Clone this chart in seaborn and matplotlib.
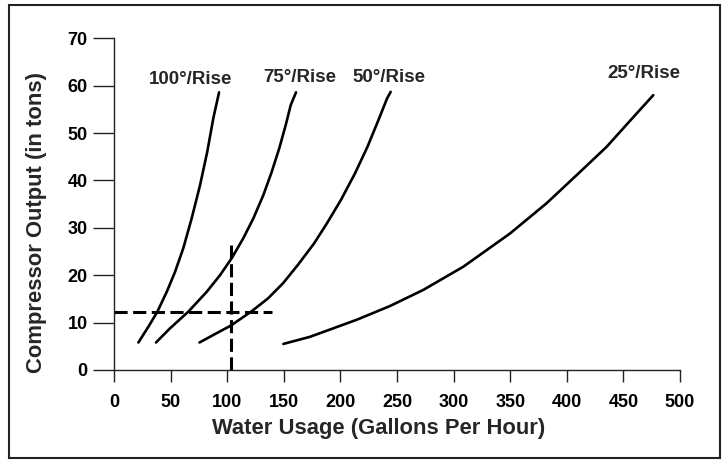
import matplotlib
matplotlib.use('Agg')
import matplotlib.pyplot as plt
import seaborn as sns
from matplotlib.patches import Rectangle


# curves, x = water usage (gal/h), y = compressor output (tons)
rise_100_x = [21.5, 30.3, 38.3, 46.6, 53.9, 61.2, 68.6, 76.0, 82.4, 87.7, 92.8]
rise_100_y = [5.8, 9.1, 12.3, 16.5, 20.7, 25.7, 32.0, 39.0, 46.1, 53.1, 58.6]

rise_75_x = [37.1, 49.5, 65.6, 81.9, 93.6, 104.0, 114.2, 123.1, 131.9, 139.3, 146.0, 151.7, 156.1, 160.8]
rise_75_y = [5.8, 8.8, 12.3, 16.5, 20.0, 23.6, 27.8, 32.0, 36.9, 41.8, 46.8, 51.7, 55.9, 58.6]

rise_50_x = [75.5, 90.1, 103.4, 121.6, 136.0, 149.3, 162.5, 176.7, 188.2, 200.5, 212.9, 223.9, 233.7, 241.2, 244.4]
rise_50_y = [5.8, 7.7, 9.4, 12.4, 15.1, 18.3, 22.2, 26.7, 31.0, 35.9, 41.5, 47.1, 52.8, 57.3, 58.7]

rise_25_x = [149.6, 173.1, 214.4, 243.8, 273.2, 308.6, 349.8, 382.2, 411.7, 435.2, 455.5, 476.4]
rise_25_y = [5.5, 7.0, 10.6, 13.5, 16.9, 21.8, 28.8, 35.2, 41.8, 47.1, 52.5, 58.0]

curve_labels = ['100°/Rise', '75°/Rise', '50°/Rise', '25°/Rise']
label_x = [68.0, 164.3, 242.5, 468.2]
label_y = [61.4, 61.7, 61.7, 62.5]

# the dashed "example" lookup lines
guide_h_x = [0, 139.3]
guide_h_y = [12.3, 12.3]
guide_v_x = [103.4, 103.4]
guide_v_y = [0, 26.5]

x_ticks = [0, 50, 100, 150, 200, 250, 300, 350, 400, 450, 500]
y_ticks = [0, 10, 20, 30, 40, 50, 60, 70]

sns.set_style('ticks')
plt.rcParams['font.family'] = ['Liberation Sans', 'DejaVu Sans']
plt.rcParams['font.weight'] = 'bold'

fig = plt.figure(figsize=(7.23, 4.61), dpi=100)
ax = fig.add_axes([0.1577, 0.1974, 0.7828, 0.7195])

for xs, ys in [(rise_100_x, rise_100_y), (rise_75_x, rise_75_y),
               (rise_50_x, rise_50_y), (rise_25_x, rise_25_y)]:
    sns.lineplot(x=xs, y=ys, ax=ax, color='black', lw=1.9, sort=False,
                 estimator=None, clip_on=False)

for xs, ys in [(guide_h_x, guide_h_y), (guide_v_x, guide_v_y)]:
    sns.lineplot(x=xs, y=ys, ax=ax, color='black', lw=2.2, sort=False, estimator=None,
                 linestyle=(0, (4.3, 1.8)), clip_on=False)

for txt, lx, ly in zip(curve_labels, label_x, label_y):
    ax.text(lx, ly, txt, ha='center', va='center', fontsize=13.5, fontweight='bold')

ax.set_xlim(0, 500)
ax.set_ylim(0, 70)
ax.set_xticks(x_ticks)
ax.set_yticks(y_ticks)
sns.despine(ax=ax)
for s in ['left', 'bottom']:
    ax.spines[s].set_linewidth(1.0)
    ax.spines[s].set_color('#222222')
ax.tick_params(axis='x', length=8.5, width=1.0, pad=9, labelsize=13, colors='#222222', labelcolor='black')
ax.tick_params(axis='y', length=15, width=1.0, pad=4, labelsize=13, colors='#222222', labelcolor='black')
for lab in ax.get_xticklabels() + ax.get_yticklabels():
    lab.set_fontweight('bold')

ax.set_xlabel('Water Usage (Gallons Per Hour)', fontsize=15.8, fontweight='bold')
ax.set_ylabel('Compressor Output (in tons)', fontsize=15.8, fontweight='bold')
ax.xaxis.set_label_coords(0.468, -0.145)
ax.yaxis.set_label_coords(-0.118, 0.446)

# outer frame around the whole figure
fig.patches.append(Rectangle((0.0131, 0.0065), 0.9828, 0.9827, transform=fig.transFigure,
                             fill=False, lw=1.5, edgecolor='#222222'))

fig.savefig('out.png', dpi=100)
